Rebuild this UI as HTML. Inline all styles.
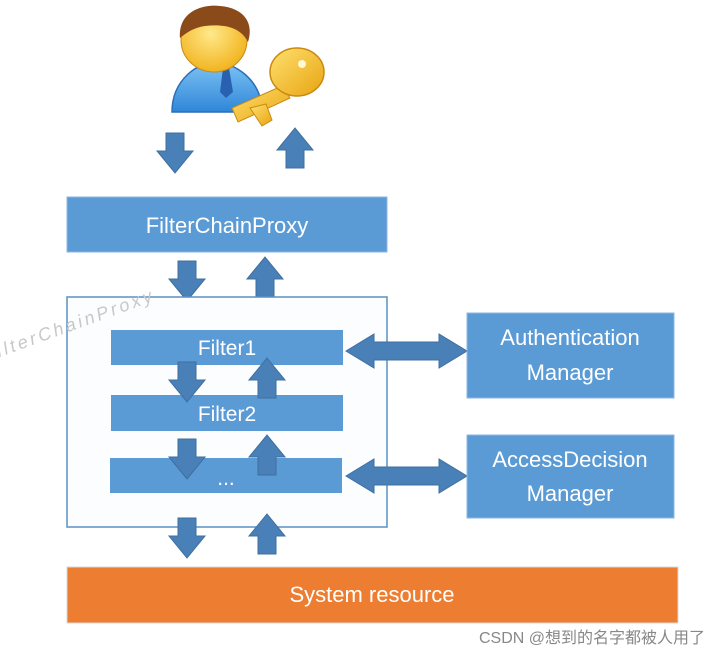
<!DOCTYPE html>
<html><head><meta charset="utf-8"><style>
html,body{margin:0;padding:0;background:#fff;}
svg{display:block;}
text{font-family:"Liberation Sans","Noto Sans CJK SC",sans-serif;}
</style></head><body>
<svg width="720" height="657" viewBox="0 0 720 657" xmlns="http://www.w3.org/2000/svg">
<defs>
<g id="dn"><polygon points="-9,0 9,0 9,18 18,18 0,40 -18,18 -9,18" fill="#4a80b8" stroke="#3f6f9f" stroke-width="1"/></g>
<g id="up"><polygon points="-9,40 9,40 9,22 18,22 0,0 -18,22 -9,22" fill="#4a80b8" stroke="#3f6f9f" stroke-width="1"/></g>
<g id="dbl"><polygon points="0,0 28,-17 28,-9 93,-9 93,-17 121,0 93,17 93,9 28,9 28,17" fill="#4a80b8" stroke="#3f6f9f" stroke-width="1"/></g>
<linearGradient id="body" x1="0" y1="0" x2="0" y2="1"><stop offset="0" stop-color="#7ec4f5"/><stop offset="1" stop-color="#2f86d8"/></linearGradient>
<radialGradient id="face" cx="0.45" cy="0.4" r="0.6"><stop offset="0" stop-color="#ffe98a"/><stop offset="1" stop-color="#f2b420"/></radialGradient>
<linearGradient id="key" x1="0" y1="0" x2="1" y2="1"><stop offset="0" stop-color="#ffe070"/><stop offset="1" stop-color="#e8a410"/></linearGradient>
</defs>

<!-- person icon -->
<path d="M172,112 C172,78 200,62 215,62 C232,62 262,78 262,112 Z" fill="url(#body)" stroke="#2a6fb8" stroke-width="1.5"/>
<polygon points="223,68 229,68 233,92 226,98 220,92" fill="#2a60b0"/>
<ellipse cx="214" cy="40" rx="33" ry="32" fill="url(#face)" stroke="#c88a10" stroke-width="1"/>
<path d="M180,38 C178,10 205,4 220,6 C245,8 254,24 248,42 C240,26 222,24 205,26 C192,28 185,34 180,38 Z" fill="#8a4a1a"/>
<!-- key -->
<polygon points="282,86 232,108 238,122 290,98" fill="url(#key)" stroke="#c98a10" stroke-width="1"/>
<polygon points="250,108 262,126 272,120 266,104" fill="url(#key)" stroke="#c98a10" stroke-width="1"/>
<ellipse cx="297" cy="72" rx="27" ry="24" fill="url(#key)" stroke="#c98a10" stroke-width="1.5"/>
<circle cx="302" cy="64" r="4" fill="#fff8d0"/>

<!-- top arrows -->
<use href="#dn" x="175" y="133"/>
<use href="#up" x="295" y="128"/>

<!-- FilterChainProxy -->
<rect x="67" y="197" width="320" height="55" fill="#5b9bd5" stroke="#8fb7e0" stroke-width="1"/>
<text x="227" y="233" text-anchor="middle" font-size="22" fill="#fff">FilterChainProxy</text>

<use href="#dn" x="187" y="261"/>
<use href="#up" x="265" y="257"/>

<!-- container -->
<rect x="67" y="297" width="320" height="230" fill="#fbfdff" stroke="#5b8fc4" stroke-width="1.5"/>
<text x="-14" y="362" font-size="18" fill="#c8c8c8" letter-spacing="3" transform="rotate(-20 -14 362)" font-style="italic">FilterChainProxy</text>

<rect x="111" y="330" width="232" height="35" fill="#5b9bd5"/>
<text x="227" y="355" text-anchor="middle" font-size="21" fill="#fff">Filter1</text>
<rect x="111" y="395" width="232" height="36" fill="#5b9bd5"/>
<text x="227" y="421" text-anchor="middle" font-size="21" fill="#fff">Filter2</text>
<rect x="110" y="458" width="232" height="35" fill="#5b9bd5"/>
<text x="226" y="485" text-anchor="middle" font-size="21" fill="#fff">...</text>

<use href="#dn" x="187" y="362"/>
<use href="#up" x="267" y="358"/>
<use href="#dn" x="187" y="439"/>
<use href="#up" x="267" y="435"/>
<use href="#dn" x="187" y="518"/>
<use href="#up" x="267" y="514"/>

<use href="#dbl" x="346" y="351"/>
<use href="#dbl" x="346" y="476"/>

<rect x="467" y="313" width="207" height="85" fill="#5b9bd5" stroke="#8fb7e0" stroke-width="1"/>
<text x="570" y="345" text-anchor="middle" font-size="22" fill="#fff">Authentication</text>
<text x="570" y="380" text-anchor="middle" font-size="22" fill="#fff">Manager</text>
<rect x="467" y="435" width="207" height="83" fill="#5b9bd5" stroke="#8fb7e0" stroke-width="1"/>
<text x="570" y="467" text-anchor="middle" font-size="22" fill="#fff">AccessDecision</text>
<text x="570" y="501" text-anchor="middle" font-size="22" fill="#fff">Manager</text>

<rect x="67" y="567" width="611" height="56" fill="#ed7d31" stroke="#d9d9d9" stroke-width="1"/>
<text x="372" y="602" text-anchor="middle" font-size="22" fill="#fff">System resource</text>

<text x="705" y="643" text-anchor="end" font-size="16" fill="#888">CSDN @想到的名字都被人用了</text>
</svg>
</body></html>
